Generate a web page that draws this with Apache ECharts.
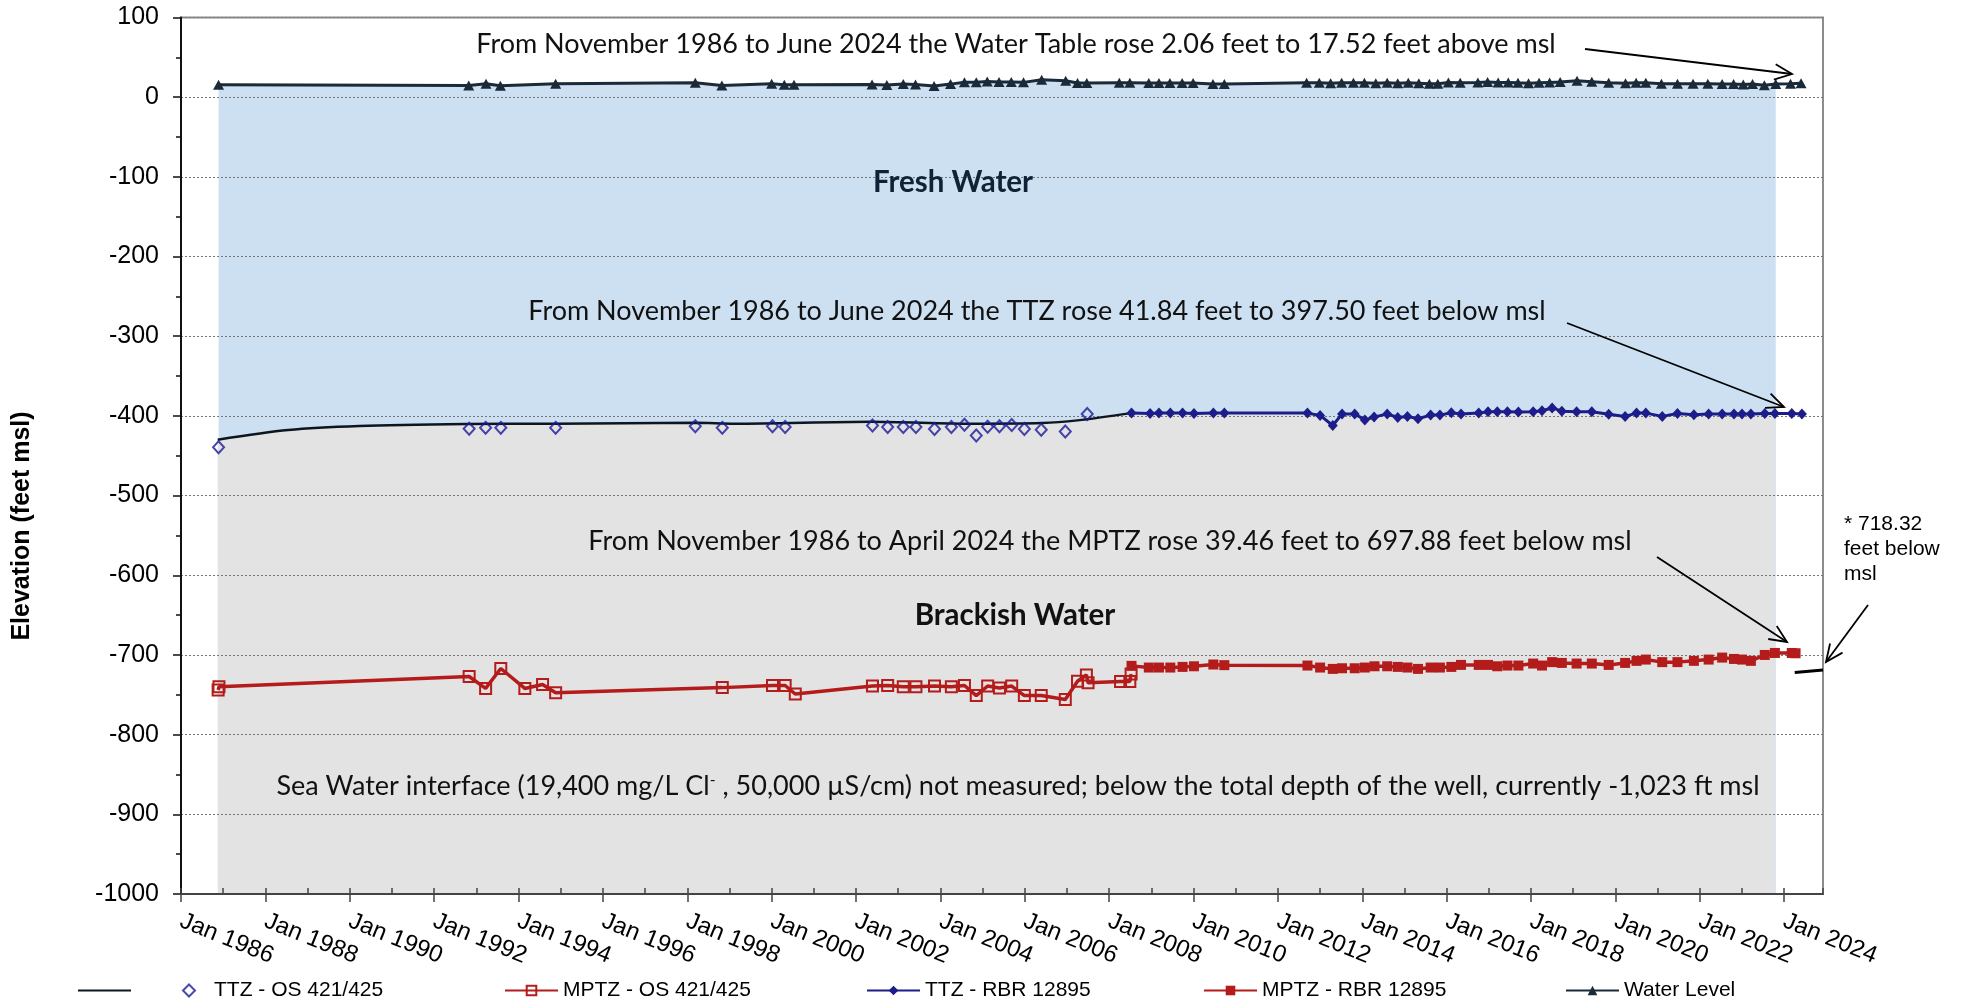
<!DOCTYPE html>
<html>
<head>
<meta charset="utf-8">
<script src="https://cdn.jsdelivr.net/npm/echarts@6/dist/echarts.min.js"></script>
<style>
html, body { margin: 0; padding: 0; background: #fff; }
#chart { width: 1963px; height: 1007px; }
</style>
</head>
<body>
<div id="chart"></div>
<script>
// 年份（小数）与高程（feet msl）
var ttzOsYears = [1986.89, 1992.83, 1993.22, 1993.58, 1994.88, 1998.19, 1998.83, 2000.02, 2000.32, 2002.39, 2002.75, 2003.12, 2003.42, 2003.86, 2004.26, 2004.57, 2004.85, 2005.12, 2005.40, 2005.69, 2005.99, 2006.39, 2006.96, 2007.48];
var ttzOsElev = [-439.34, -416, -415, -415, -415, -413, -415, -413, -414, -412, -414, -414, -414, -416.5, -414, -411, -424.5, -413.5, -413, -411.5, -416.5, -417.5, -419.5, -397.5];

var mptzOsYears = [1986.88, 1986.90, 1992.83, 1993.22, 1993.58, 1994.15, 1994.57, 1994.88, 1998.83, 2000.02, 2000.32, 2000.56, 2002.39, 2002.75, 2003.12, 2003.42, 2003.86, 2004.26, 2004.57, 2004.85, 2005.12, 2005.40, 2005.69, 2005.99, 2006.39, 2006.96, 2007.25, 2007.46, 2007.50, 2008.27, 2008.49, 2008.52];
var mptzOsElev = [-744, -740, -727, -742, -717, -742, -737, -747.5, -741, -738.3, -738.3, -749, -739, -738.3, -739.8, -739.8, -739, -739.8, -738.3, -751, -739, -741.5, -739, -751, -751, -756, -733, -725, -735, -733.3, -733.3, -724];

var ttzRbrYears = [2008.53, 2008.97, 2009.18, 2009.45, 2009.74, 2010.01, 2010.47, 2010.73, 2012.70, 2013.00, 2013.30, 2013.52, 2013.82, 2014.06, 2014.28, 2014.59, 2014.84, 2015.07, 2015.32, 2015.62, 2015.84, 2016.11, 2016.34, 2016.76, 2016.98, 2017.20, 2017.44, 2017.70, 2018.05, 2018.26, 2018.50, 2018.73, 2019.08, 2019.44, 2019.84, 2020.23, 2020.50, 2020.72, 2021.11, 2021.47, 2021.86, 2022.21, 2022.53, 2022.81, 2023.00, 2023.21, 2023.54, 2023.78, 2024.18, 2024.42];
var ttzRbrElev = [-396.5, -397, -396.5, -396.5, -396.5, -397, -396.5, -396.5, -396.5, -399.4, -412, -397.5, -397.5, -405, -401.5, -397.5, -402, -400.6, -403.5, -399, -399, -396, -397.5, -396.5, -394.7, -394.7, -394.7, -395, -394.7, -393.5, -390, -394, -394.7, -394.7, -398, -400.6, -396.5, -396.5, -400.6, -397, -398.5, -397.5, -397.5, -397.5, -397.5, -397.5, -397, -397, -397, -397.5];

var mptzRbrYears = [2008.53, 2008.94, 2009.18, 2009.45, 2009.74, 2010.01, 2010.47, 2010.73, 2012.70, 2013.00, 2013.30, 2013.52, 2013.82, 2014.06, 2014.29, 2014.59, 2014.84, 2015.07, 2015.32, 2015.62, 2015.84, 2016.11, 2016.34, 2016.76, 2016.98, 2017.20, 2017.44, 2017.70, 2018.05, 2018.26, 2018.50, 2018.73, 2019.08, 2019.44, 2019.84, 2020.23, 2020.50, 2020.72, 2021.11, 2021.47, 2021.86, 2022.21, 2022.53, 2022.81, 2023.00, 2023.21, 2023.54, 2023.78, 2024.18, 2024.27];
var mptzRbrElev = [-713.7, -715.8, -715.8, -715.8, -715, -714.2, -712, -712.8, -713.3, -715.8, -717.5, -716.7, -716.7, -715.8, -714.2, -714.2, -715, -715.8, -717.5, -715.8, -715.8, -715, -712.5, -712.5, -712.5, -714.2, -713.3, -713.3, -710.8, -713.3, -709, -710, -710.8, -710.8, -712.5, -710, -707.4, -705.8, -709, -709, -707.4, -705.8, -703.3, -705, -705.8, -707.4, -700, -697.5, -697.5, -697.88];

var wlYears = [1986.89, 1992.82, 1993.23, 1993.57, 1994.88, 1998.19, 1998.82, 2000.00, 2000.30, 2000.53, 2002.38, 2002.73, 2003.12, 2003.41, 2003.85, 2004.24, 2004.57, 2004.85, 2005.11, 2005.39, 2005.68, 2005.97, 2006.40, 2006.97, 2007.25, 2007.47, 2008.24, 2008.49, 2008.94, 2009.18, 2009.44, 2009.73, 2009.99, 2010.46, 2010.73,
  2012.68, 2012.98, 2013.25, 2013.51, 2013.79, 2014.05, 2014.32, 2014.59, 2014.84, 2015.09, 2015.34, 2015.59, 2015.79, 2016.04, 2016.32, 2016.74, 2016.97, 2017.22, 2017.46, 2017.69, 2017.94, 2018.19, 2018.44, 2018.69, 2019.09, 2019.44, 2019.84, 2020.24, 2020.49, 2020.72, 2021.09, 2021.47, 2021.84, 2022.19, 2022.53, 2022.80, 2023.03, 2023.25, 2023.53, 2023.80, 2024.15, 2024.40];
var wlElev = [15.46, 14.8, 16.9, 14.4, 16.9, 18.2, 14.8, 17, 15.6, 15.6, 16, 15.3, 16.4, 16, 14, 16.4, 18.6, 18.6, 19.8, 19, 19, 18.6, 22, 20.7, 17.7, 17.7, 18.2, 18.2, 17.7, 17.7, 17.7, 17.7, 17.7, 16.4, 16.4,
  18.2, 18.2, 17.5, 18, 18, 18, 17.5, 18, 17.5, 18, 17.5, 17, 17, 18.5, 18, 18.5, 19, 18.5, 18.5, 18, 17.5, 18, 18.5, 19, 20.5, 19.5, 18, 17.5, 18, 18, 17, 17, 17, 17, 16.5, 16.5, 16, 16.5, 15, 16.5, 17, 17.52];

// 平滑的淡水/咸淡水分界线
var trendYears = [1986.87, 1988.54, 1990.23, 1992.77, 1994.88, 1998.19, 1999.13, 2002.35, 2004.72, 2006.41, 2007.25, 2008.52];
var trendElev = [-429.8, -417.8, -412.8, -410.3, -409.8, -408.6, -409.8, -407.3, -409.8, -409, -405.6, -396.5];

// 右侧 718.32 短线
var mptzMarkYears = [2024.25, 2024.92];
var mptzMarkElev = [-722, -719];

var areaEndYear = 2023.8;

function pairs(xs, ys) {
    var out = [];
    for (var i = 0; i < xs.length; i++) out.push([xs[i], ys[i]]);
    return out;
}
var freshArea = pairs(wlYears, wlElev).filter(function (p) { return p[0] <= areaEndYear; });
var brackishArea = pairs(trendYears, trendElev).concat(
    pairs(ttzRbrYears, ttzRbrElev).slice(1).filter(function (p) { return p[0] <= areaEndYear; }));

var annFont = 'Lato';
var axFont = 'Liberation Sans';

function arrow(x1, y1, x2, y2) {
    var a = Math.atan2(y2 - y1, x2 - x1), L = 19, s = 0.42;
    return [
        {type: 'line', z: 20, shape: {x1: x1, y1: y1, x2: x2, y2: y2}, style: {stroke: '#000', lineWidth: 1.8}},
        {type: 'polyline', z: 20, shape: {points: [
            [x2 - L * Math.cos(a - s), y2 - L * Math.sin(a - s)], [x2, y2],
            [x2 - L * Math.cos(a + s), y2 - L * Math.sin(a + s)]]},
            style: {stroke: '#000', lineWidth: 1.8, fill: null}}
    ];
}

function note(x, y, text, size, weight, color) {
    return {type: 'text', z: 20, x: x, y: y, style: {
        text: text, fontFamily: annFont, fontSize: size, fontWeight: weight || 'normal',
        fill: color || '#111', align: 'center', verticalAlign: 'middle'}};
}

var graphics = [
    {type: 'text', z: 20, x: 22, y: 526, rotation: Math.PI / 2, style: {
        text: 'Elevation (feet msl)', fontFamily: axFont, fontSize: 25, fontWeight: 'bold',
        fill: '#000', align: 'center', verticalAlign: 'middle'}},
    note(1016, 44, 'From November 1986 to June 2024 the Water Table rose 2.06 feet to 17.52 feet above msl', 27),
    note(1037, 311, 'From November 1986 to June 2024 the TTZ rose 41.84 feet to 397.50 feet below msl', 27),
    note(1110, 541, 'From November 1986 to April 2024 the MPTZ rose 39.46 feet to 697.88 feet below msl', 27),
    note(953, 182, 'Fresh Water', 29.5, 'bold', '#0f2236'),
    note(1015, 615, 'Brackish Water', 29.5, 'bold', '#111'),
    {type: 'text', z: 20, x: 1018, y: 786, style: {
        text: '{t|Sea Water interface (19,400 mg/L Cl}{s|-}{t| , 50,000 µS/cm) not measured; below the total depth of the well, currently -1,023 ft msl}',
        align: 'center', verticalAlign: 'middle',
        rich: {
            t: {fontFamily: annFont, fontSize: 27, fill: '#111'},
            s: {fontFamily: annFont, fontSize: 16, fill: '#111', verticalAlign: 'top', padding: [0, 0, 12, 0]}
        }}},
    {type: 'text', z: 20, x: 1844, y: 512, style: {
        text: '* 718.32\nfeet below\nmsl', fontFamily: axFont, fontSize: 21, lineHeight: 25,
        fill: '#000', align: 'left', verticalAlign: 'top'}}
].concat(arrow(1585, 49, 1792, 74), arrow(1567, 323, 1784, 407), arrow(1657, 557, 1787, 642), arrow(1868, 605, 1826, 662));

function legendAt(item, left, w, h, padLeft) {
    return {
        data: [item], left: left, top: 980, orient: 'horizontal', padding: 0,
        itemWidth: w || 53, itemHeight: h || 12,
        textStyle: {fontFamily: axFont, fontSize: 21, color: '#000', padding: [0, 0, 0, padLeft || 0]}
    };
}

var chart = echarts.init(document.getElementById('chart'));
var option = {
    animation: false,
    backgroundColor: '#fff',
    grid: {left: 181, right: 140, top: 17.5, bottom: 113, show: true, borderColor: '#8c8c8c', borderWidth: 2, backgroundColor: 'transparent', outerBoundsMode: 'none'},
    legend: [
        legendAt({name: ' ', icon: 'rect'}, 78, 53, 2),
        legendAt('TTZ - OS 421/425', 182, 12, 12, 14),
        legendAt('MPTZ - OS 421/425', 504),
        legendAt('TTZ - RBR 12895', 866),
        legendAt('MPTZ - RBR 12895', 1203),
        legendAt('Water Level', 1565)
    ],
    xAxis: [{
        type: 'value', min: 1986, max: 2024.92, interval: 2, position: 'bottom', z: 3,
        axisLine: {show: true, onZero: false, lineStyle: {color: '#444', width: 2}},
        axisTick: {show: true, inside: false, length: 8, lineStyle: {color: '#444', width: 1.5}},
        splitLine: {show: false},
        axisLabel: {
            show: true, rotate: -22, margin: 26, showMaxLabel: false,
            fontFamily: axFont, fontSize: 24, color: '#000',
            formatter: function (v) {
                var r = Math.round(v);
                return (Math.abs(v - r) < 1e-6 && r % 2 === 0) ? 'Jan ' + r : '';
            }
        }
    }, {
        type: 'value', min: 1986, max: 2024.92, interval: 1, position: 'bottom', z: 3,
        axisLine: {show: false, onZero: false},
        axisTick: {show: true, inside: true, length: 6, lineStyle: {color: '#444', width: 1.5}},
        splitLine: {show: false},
        axisLabel: {show: false}
    }],
    yAxis: {
        type: 'value', min: -1000, max: 100, interval: 100, z: 3,
        axisLine: {show: true, onZero: false, lineStyle: {color: '#111', width: 2}},
        axisTick: {show: true, length: 8, lineStyle: {color: '#111', width: 1.5}},
        minorTick: {show: true, splitNumber: 2, length: 5, lineStyle: {color: '#111', width: 1.5}},
        splitLine: {show: true, lineStyle: {color: '#777', width: 1, type: [2, 2]}},
        axisLabel: {margin: 22, fontFamily: axFont, fontSize: 25, color: '#000',
            formatter: function (v) { return String(v); }}
    },
    series: [
        {name: 'fresh', type: 'line', data: freshArea, symbol: 'none', silent: true, z: 1,
            lineStyle: {width: 0}, areaStyle: {color: '#cce0f1', opacity: 1, origin: 'start'}},
        {name: 'brackish', type: 'line', data: brackishArea, symbol: 'none', silent: true, z: 1, smooth: 0.3,
            lineStyle: {width: 0}, areaStyle: {color: '#e3e3e3', opacity: 1, origin: 'start'}},
        {name: ' ', type: 'line', data: pairs(trendYears, trendElev), symbol: 'none', smooth: 0.3, z: 5,
            lineStyle: {color: '#0d1620', width: 2.5}, itemStyle: {color: '#0d1620'}},
        {name: 'MPTZ - OS 421/425', type: 'line', data: pairs(mptzOsYears, mptzOsElev), z: 6,
            symbol: 'rect', symbolSize: 11, showAllSymbol: true,
            lineStyle: {color: '#b41c1c', width: 3.5},
            itemStyle: {color: 'rgba(0,0,0,0)', borderColor: '#b41c1c', borderWidth: 2}},
        {name: 'MPTZ - RBR 12895', type: 'line', data: pairs(mptzRbrYears, mptzRbrElev), z: 6,
            symbol: 'rect', symbolSize: 10, showAllSymbol: true,
            lineStyle: {color: '#b41c1c', width: 3.5}, itemStyle: {color: '#b41c1c'}},
        {name: 'TTZ - OS 421/425', type: 'scatter', data: pairs(ttzOsYears, ttzOsElev), z: 6,
            symbol: 'diamond', symbolSize: [11, 12],
            itemStyle: {color: 'rgba(0,0,0,0)', borderColor: '#1a1a99', borderWidth: 2}},
        {name: 'TTZ - RBR 12895', type: 'line', data: pairs(ttzRbrYears, ttzRbrElev), z: 6,
            symbol: 'diamond', symbolSize: [10, 11], showAllSymbol: true,
            lineStyle: {color: '#1c1c8a', width: 3}, itemStyle: {color: '#1c1c8a'}},
        {name: 'Water Level', type: 'line', data: pairs(wlYears, wlElev), z: 6,
            symbol: 'triangle', symbolSize: [11, 10], showAllSymbol: true,
            lineStyle: {color: '#1b2a38', width: 3}, itemStyle: {color: '#1b2a38'}},
        {name: 'mark718', type: 'line', data: pairs(mptzMarkYears, mptzMarkElev), z: 6,
            symbol: 'none', lineStyle: {color: '#000', width: 3}}
    ],
    graphic: graphics
};
chart.setOption(option);
</script>
</body>
</html>
